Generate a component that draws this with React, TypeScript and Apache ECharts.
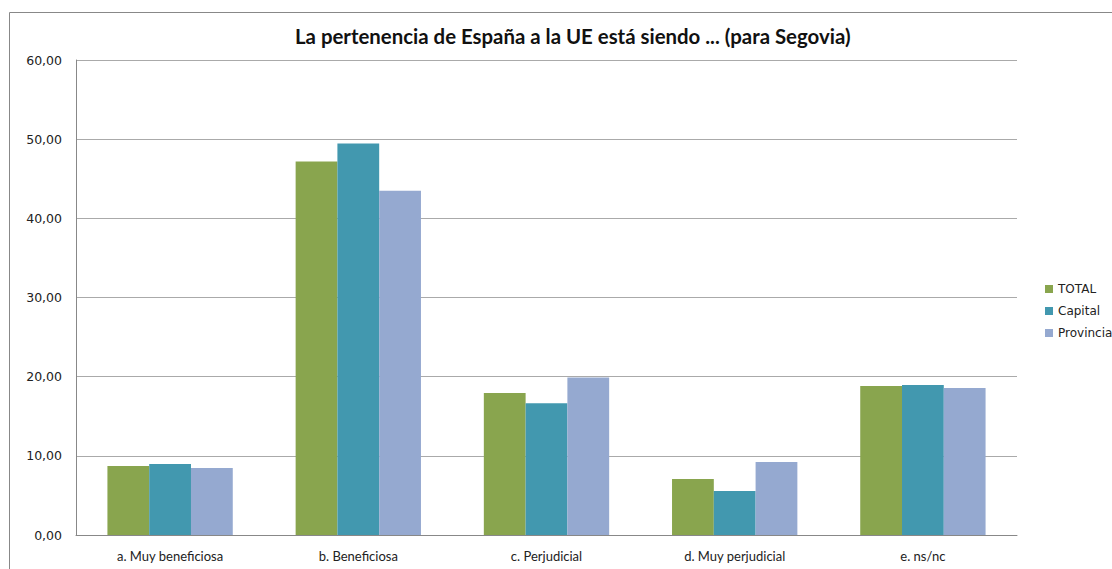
import React, { useEffect, useRef } from "react";
import * as echarts from "echarts";

const categories = ["a. Muy beneficiosa", "b. Beneficiosa", "c. Perjudicial", "d. Muy perjudicial", "e. ns/nc"];
const totalValues = [8.72, 47.17, 17.93, 7.07, 18.81];
const capitalValues = [8.97, 49.45, 16.63, 5.56, 18.94];
const provinciaValues = [8.47, 43.5, 19.91, 9.22, 18.56];
const seriesNames = ["TOTAL", "Capital", "Provincia"];
const seriesColors = ["#89A54E", "#4298AF", "#95A9D0"];
const titleText = "La pertenencia de España a la UE está siendo ... (para Segovia)";

export default function App() {
  const ref = useRef<HTMLDivElement>(null);
  useEffect(() => {
    document.body.style.margin = "0";
    const chart = echarts.init(ref.current!, null, { renderer: "svg" });
    const data = [totalValues, capitalValues, provinciaValues];
    chart.setOption({
      animation: false,
      backgroundColor: "#ffffff",
      title: {
        text: titleText,
        left: 290,
        top: 21,
        textStyle: { fontFamily: "Lato", fontWeight: "bold", fontSize: 20.4, color: "#111" },
      },
      graphic: [
        {
          type: "rect",
          shape: { x: 9.5, y: 12.5, width: 1200, height: 700 },
          style: { fill: "none", stroke: "#888", lineWidth: 1 },
          silent: true,
        },
      ],
      legend: {
        orient: "vertical",
        left: 1040,
        top: 278,
        itemWidth: 8,
        itemHeight: 8,
        itemGap: 10,
        icon: "rect",
        textStyle: { fontFamily: "DejaVu Sans", fontSize: 12, color: "#222", padding: [0, 0, 0, 0] },
        data: seriesNames,
      },
      grid: { left: 76, right: 95, top: 60, bottom: 34, containLabel: false },
      xAxis: {
        type: "category",
        data: categories,
        axisLine: { lineStyle: { color: "#888" } },
        axisTick: { show: false },
        axisLabel: { fontFamily: "Lato", fontSize: 13, color: "#222", margin: 14 },
      },
      yAxis: {
        type: "value",
        min: 0,
        max: 60,
        interval: 10,
        axisLine: { show: true, lineStyle: { color: "#888" } },
        axisTick: { show: false },
        splitLine: { lineStyle: { color: "#aaa" } },
        axisLabel: {
          fontFamily: "DejaVu Sans",
          fontSize: 12.5,
          color: "#222",
          margin: 14,
          formatter: (v: number) => v.toFixed(2).replace(".", ","),
        },
      },
      series: seriesNames.map((name, i) => ({
        name,
        type: "bar",
        data: data[i],
        barGap: "0%",
        barCategoryGap: "33.4%",
        itemStyle: { color: seriesColors[i] },
      })),
    });
    return () => chart.dispose();
  }, []);
  return <div ref={ref} style={{ position: "absolute", left: 0, top: 0, width: 1112, height: 569 }} />;
}
